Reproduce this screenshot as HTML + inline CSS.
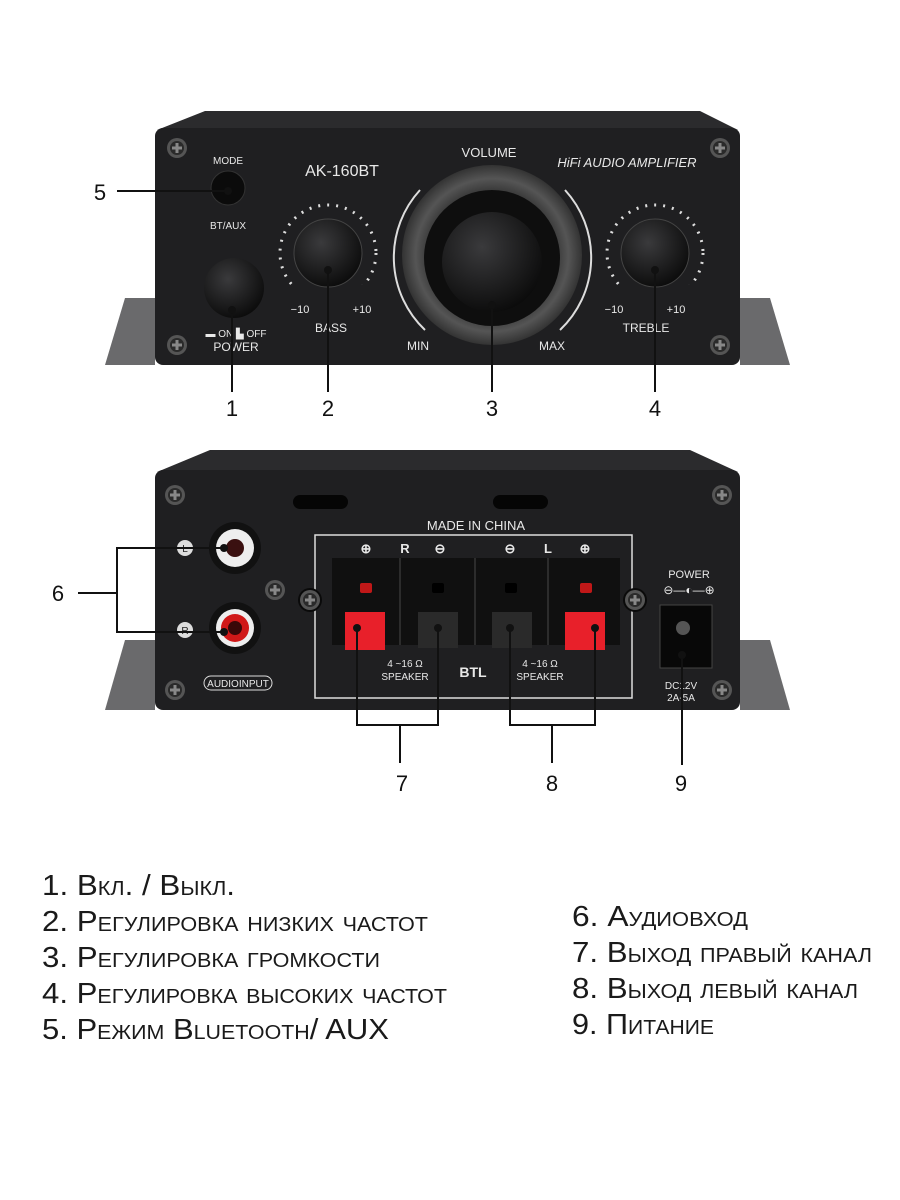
<!DOCTYPE html>
<html><head><meta charset="utf-8"><style>
html,body{margin:0;padding:0;background:#fff;}
svg{display:block}
.l{font-family:"Liberation Sans",sans-serif;font-variant:small-caps;font-size:29px;fill:#1a1a1a;}
.w{font-family:"Liberation Sans",sans-serif;fill:#e8e8e8;text-anchor:middle;}
.n{font-family:"Liberation Sans",sans-serif;font-size:22px;fill:#111;text-anchor:middle;}
</style></head><body>
<svg width="900" height="1200" viewBox="0 0 900 1200" xmlns="http://www.w3.org/2000/svg">
<defs>
<radialGradient id="kn" cx="0.4" cy="0.35" r="0.7"><stop offset="0" stop-color="#3a3a3c"/><stop offset="1" stop-color="#0a0a0a"/></radialGradient>
<radialGradient id="ring" cx="0.5" cy="0.5" r="0.5"><stop offset="0.6" stop-color="#222"/><stop offset="0.85" stop-color="#555"/><stop offset="1" stop-color="#333"/></radialGradient>
<g id="scr"><circle r="10" fill="#555"/><circle r="7" fill="#2a2a2a"/><path d="M-5 0H5M0 -5V5" stroke="#888" stroke-width="3"/></g>
</defs>

<!-- FRONT -->
<polygon points="105,365 155,365 155,298 125,298" fill="#6a6a6c"/>
<polygon points="790,365 740,365 740,298 770,298" fill="#6a6a6c"/>
<polygon points="205,111 700,111 738,130 157,130" fill="#2b2b2d"/>
<rect x="155" y="128" width="585" height="237" rx="8" fill="#1f1f21"/>
<use href="#scr" x="177" y="148"/><use href="#scr" x="720" y="148"/>
<use href="#scr" x="177" y="345"/><use href="#scr" x="720" y="345"/>
<circle cx="228" cy="188" r="17" fill="#0b0b0b" stroke="#333"/>
<circle cx="234" cy="288" r="30" fill="url(#kn)"/>
<g fill="#ddd">
<circle cx="328" cy="253" r="48" fill="none" stroke="#ddd" stroke-width="3" stroke-dasharray="2 7"/>
<circle cx="655" cy="253" r="48" fill="none" stroke="#ddd" stroke-width="3" stroke-dasharray="2 7"/>
</g>
<rect x="280" y="285" width="100" height="40" fill="#1f1f21"/>
<rect x="607" y="285" width="100" height="40" fill="#1f1f21"/>
<circle cx="328" cy="253" r="34" fill="url(#kn)" stroke="#444"/>
<circle cx="655" cy="253" r="34" fill="url(#kn)" stroke="#444"/>
<path d="M420 190 A100 100 0 0 0 425 330" fill="none" stroke="#ddd" stroke-width="2"/>
<path d="M565 190 A100 100 0 0 1 560 330" fill="none" stroke="#ddd" stroke-width="2"/>
<circle cx="492" cy="255" r="90" fill="url(#ring)"/>
<circle cx="492" cy="258" r="68" fill="#0e0e0e"/>
<circle cx="492" cy="262" r="50" fill="url(#kn)"/>
<text class="w" x="228" y="164" font-size="10">MODE</text>
<text class="w" x="228" y="229" font-size="10">BT/AUX</text>
<text class="w" x="342" y="176" font-size="16">AK-160BT</text>
<text class="w" x="489" y="157" font-size="13">VOLUME</text>
<text class="w" x="627" y="167" font-size="13" font-style="italic">HiFi AUDIO AMPLIFIER</text>
<text class="w" x="300" y="313" font-size="11">−10</text><text class="w" x="362" y="313" font-size="11">+10</text>
<text class="w" x="331" y="332" font-size="12">BASS</text>
<text class="w" x="614" y="313" font-size="11">−10</text><text class="w" x="676" y="313" font-size="11">+10</text>
<text class="w" x="646" y="332" font-size="12">TREBLE</text>
<text class="w" x="418" y="350" font-size="12">MIN</text><text class="w" x="552" y="350" font-size="12">MAX</text>
<text class="w" x="236" y="337" font-size="10">▬ ON ▙ OFF</text>
<text class="w" x="236" y="351" font-size="12">POWER</text>
<g stroke="#111" stroke-width="2" fill="none">
<path d="M117 191H228"/><path d="M232 310V392"/><path d="M328 270V392"/><path d="M492 305V392"/><path d="M655 270V392"/>
</g>
<g fill="#111"><circle cx="228" cy="191" r="4"/><circle cx="232" cy="310" r="4"/><circle cx="328" cy="270" r="4"/><circle cx="492" cy="305" r="4"/><circle cx="655" cy="270" r="4"/></g>
<text class="n" x="100" y="200">5</text>
<text class="n" x="232" y="416">1</text><text class="n" x="328" y="416">2</text><text class="n" x="492" y="416">3</text><text class="n" x="655" y="416">4</text>

<!-- BACK -->
<polygon points="105,710 155,710 155,640 125,640" fill="#6a6a6c"/>
<polygon points="790,710 740,710 740,640 770,640" fill="#6a6a6c"/>
<polygon points="210,450 690,450 738,472 157,472" fill="#2b2b2d"/>
<rect x="155" y="470" width="585" height="240" rx="8" fill="#1f1f21"/>
<use href="#scr" x="175" y="495"/><use href="#scr" x="722" y="495"/>
<use href="#scr" x="175" y="690"/><use href="#scr" x="722" y="690"/>
<use href="#scr" x="275" y="590"/>
<rect x="293" y="495" width="55" height="14" rx="7" fill="#050505"/>
<rect x="493" y="495" width="55" height="14" rx="7" fill="#050505"/>
<circle cx="235" cy="548" r="26" fill="#111"/><circle cx="235" cy="548" r="19" fill="#eee"/><circle cx="235" cy="548" r="9" fill="#3a1010"/>
<circle cx="235" cy="628" r="26" fill="#111"/><circle cx="235" cy="628" r="19" fill="#eee"/><circle cx="235" cy="628" r="14" fill="#d01818"/><circle cx="235" cy="628" r="7" fill="#3a0808"/>
<circle cx="185" cy="548" r="8" fill="#ddd"/><text x="185" y="552" font-size="10" text-anchor="middle" font-family="Liberation Sans" fill="#222">L</text>
<circle cx="185" cy="630" r="8" fill="#ddd"/><text x="185" y="634" font-size="10" text-anchor="middle" font-family="Liberation Sans" fill="#222">R</text>
<rect x="204" y="676" width="68" height="14" rx="7" fill="none" stroke="#ddd"/>
<text class="w" x="238" y="687" font-size="10">AUDIOINPUT</text>
<text class="w" x="476" y="530" font-size="13">MADE IN CHINA</text>
<rect x="315" y="535" width="317" height="163" fill="none" stroke="#ddd" stroke-width="1.5"/>
<g font-size="13" font-weight="bold">
<text class="w" x="366" y="553">⊕</text><text class="w" x="405" y="553">R</text><text class="w" x="440" y="553">⊖</text>
<text class="w" x="510" y="553">⊖</text><text class="w" x="548" y="553">L</text><text class="w" x="585" y="553">⊕</text>
</g>
<rect x="332" y="558" width="288" height="87" fill="#101010"/>
<g stroke="#2c2c2c" stroke-width="2"><path d="M400 558V645M475 558V645M548 558V645"/></g>
<rect x="360" y="583" width="12" height="10" rx="2" fill="#c01818"/><rect x="580" y="583" width="12" height="10" rx="2" fill="#c01818"/>
<rect x="432" y="583" width="12" height="10" rx="2" fill="#000"/><rect x="505" y="583" width="12" height="10" rx="2" fill="#000"/>
<rect x="345" y="612" width="40" height="38" fill="#e8202a"/><rect x="565" y="612" width="40" height="38" fill="#e8202a"/>
<rect x="418" y="612" width="40" height="36" fill="#2a2a2a"/><rect x="492" y="612" width="40" height="36" fill="#2a2a2a"/>
<circle cx="310" cy="600" r="12" fill="#0a0a0a"/><use href="#scr" x="310" y="600"/>
<circle cx="635" cy="600" r="12" fill="#0a0a0a"/><use href="#scr" x="635" y="600"/>
<text class="w" x="405" y="667" font-size="10">4 ~16 Ω</text><text class="w" x="405" y="680" font-size="10">SPEAKER</text>
<text class="w" x="540" y="667" font-size="10">4 ~16 Ω</text><text class="w" x="540" y="680" font-size="10">SPEAKER</text>
<text class="w" x="473" y="677" font-size="14" font-weight="bold">BTL</text>
<text class="w" x="689" y="578" font-size="11">POWER</text>
<text class="w" x="689" y="594" font-size="12">⊖—◐—⊕</text>
<rect x="660" y="605" width="52" height="63" fill="#080808" stroke="#444"/>
<circle cx="683" cy="628" r="7" fill="#555"/>
<text class="w" x="681" y="689" font-size="10">DC12V</text><text class="w" x="681" y="701" font-size="10">2A-5A</text>
<g stroke="#111" stroke-width="2" fill="none">
<path d="M78 593H117M224 548H117V632H224"/>
<path d="M357 628V725H438V628M400 725V763"/>
<path d="M510 628V725H595V628M552 725V763"/>
<path d="M682 655V765"/>
</g>
<g fill="#111"><circle cx="224" cy="548" r="4"/><circle cx="224" cy="632" r="4"/><circle cx="357" cy="628" r="4"/><circle cx="438" cy="628" r="4"/><circle cx="510" cy="628" r="4"/><circle cx="595" cy="628" r="4"/><circle cx="682" cy="655" r="4"/></g>
<text class="n" x="58" y="601">6</text>
<text class="n" x="402" y="791">7</text><text class="n" x="552" y="791">8</text><text class="n" x="681" y="791">9</text>

<!-- LEGEND -->
<text class="l" x="42" y="895" textLength="193" lengthAdjust="spacingAndGlyphs">1. Вкл. / Выкл.</text>
<text class="l" x="42" y="931" textLength="386" lengthAdjust="spacingAndGlyphs">2. Регулировка низких частот</text>
<text class="l" x="42" y="967" textLength="338" lengthAdjust="spacingAndGlyphs">3. Регулировка громкости</text>
<text class="l" x="42" y="1003" textLength="405" lengthAdjust="spacingAndGlyphs">4. Регулировка высоких частот</text>
<text class="l" x="42" y="1039" textLength="347" lengthAdjust="spacingAndGlyphs">5. Режим Bluetooth/ AUX</text>
<text class="l" x="572" y="926" textLength="176" lengthAdjust="spacingAndGlyphs">6. Аудиовход</text>
<text class="l" x="572" y="962" textLength="300" lengthAdjust="spacingAndGlyphs">7. Выход правый канал</text>
<text class="l" x="572" y="998" textLength="286" lengthAdjust="spacingAndGlyphs">8. Выход левый канал</text>
<text class="l" x="572" y="1034" textLength="142" lengthAdjust="spacingAndGlyphs">9. Питание</text>
</svg>
</body></html>
